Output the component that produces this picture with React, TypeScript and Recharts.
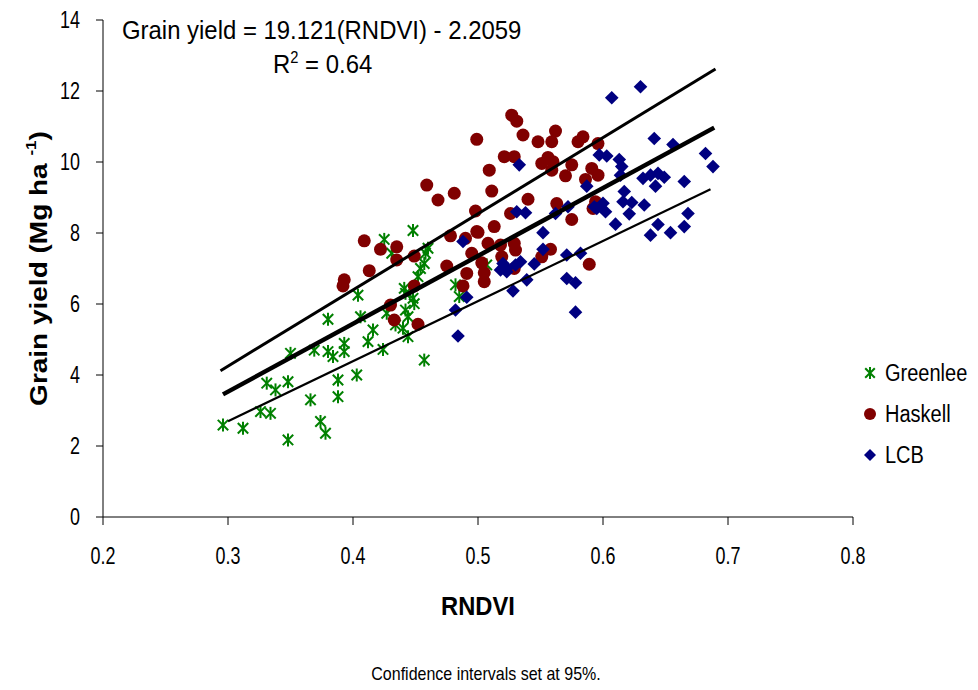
import React from 'react';
import { ScatterChart, Scatter, XAxis, YAxis } from 'recharts';

// RNDVI / grain yield pairs, one pair of arrays per site
const greenleeRndvi = [
  0.296, 0.312, 0.326, 0.334, 0.331, 0.338, 0.348, 0.348, 0.35, 0.366, 0.369, 0.374,
  0.378, 0.38, 0.38, 0.384, 0.388, 0.388, 0.393, 0.393, 0.403, 0.404, 0.406, 0.412,
  0.416, 0.424, 0.425, 0.427, 0.434, 0.44, 0.444, 0.441, 0.442, 0.444, 0.442, 0.448,
  0.448, 0.449, 0.452, 0.454, 0.457, 0.458, 0.46, 0.457, 0.431, 0.482, 0.485, 0.507,
];
const greenleeYield = [
  2.59, 2.5, 2.97, 2.92, 3.77, 3.58, 3.81, 2.17, 4.61, 3.3, 4.7, 2.69,
  2.36, 5.57, 4.66, 4.52, 3.86, 3.39, 4.89, 4.66, 4.0, 6.25, 5.64, 4.94,
  5.27, 4.72, 7.82, 5.74, 5.41, 5.32, 5.08, 6.44, 6.3, 5.64, 5.83, 8.07,
  6.16, 6.01, 6.77, 7.0, 7.14, 7.43, 7.57, 4.42, 7.43, 6.54, 6.21, 7.1,
];

const haskellRndvi = [
  0.459, 0.468, 0.481, 0.498, 0.409, 0.422, 0.435, 0.435, 0.449, 0.413, 0.393, 0.392,
  0.449, 0.43, 0.433, 0.452, 0.478, 0.49, 0.495, 0.475, 0.491, 0.488, 0.499, 0.527,
  0.531, 0.499, 0.536, 0.548, 0.559, 0.562, 0.58, 0.584, 0.596, 0.521, 0.529, 0.551,
  0.556, 0.56, 0.559, 0.575, 0.57, 0.591, 0.596, 0.586, 0.509, 0.511, 0.54, 0.526,
  0.563, 0.575, 0.592, 0.594, 0.5, 0.513, 0.508, 0.518, 0.529, 0.53, 0.503, 0.519,
  0.505, 0.505, 0.529, 0.551, 0.558, 0.589,
];
const haskellYield = [
  9.35, 8.93, 9.12, 8.62, 7.78, 7.54, 7.61, 7.24, 7.35, 6.94, 6.68, 6.51,
  6.51, 5.97, 5.55, 5.43, 7.92, 7.85, 7.43, 7.07, 6.86, 6.51, 8.04, 11.32,
  11.15, 10.64, 10.76, 10.57, 10.57, 10.87, 10.57, 10.71, 10.52, 10.15, 10.15, 9.96,
  10.13, 10.01, 9.77, 9.92, 9.61, 9.82, 9.63, 9.51, 9.77, 9.18, 8.95, 8.55,
  8.83, 8.38, 8.69, 8.88, 8.02, 8.18, 7.71, 7.66, 7.71, 7.52, 7.16, 7.33,
  6.88, 6.63, 7.0, 7.33, 7.54, 7.12,
];

const lcbRndvi = [
  0.63, 0.607, 0.641, 0.656, 0.682, 0.688, 0.597, 0.603, 0.613, 0.615, 0.614, 0.632,
  0.638, 0.644, 0.649, 0.642, 0.665, 0.587, 0.617, 0.616, 0.623, 0.6, 0.593, 0.602,
  0.621, 0.633, 0.61, 0.668, 0.644, 0.665, 0.638, 0.654, 0.531, 0.538, 0.562, 0.572,
  0.552, 0.552, 0.571, 0.582, 0.534, 0.545, 0.523, 0.539, 0.571, 0.578, 0.528, 0.578,
  0.533, 0.488, 0.491, 0.482, 0.484, 0.518, 0.523, 0.52, 0.53, 0.595,
];
const lcbYield = [
  12.12, 11.81, 10.66, 10.49, 10.24, 9.87, 10.2, 10.17, 10.07, 9.87, 9.63, 9.54,
  9.63, 9.68, 9.57, 9.32, 9.45, 9.32, 9.17, 8.88, 8.86, 8.84, 8.74, 8.6,
  8.54, 8.79, 8.25, 8.55, 8.24, 8.18, 7.94, 8.01, 8.6, 8.57, 8.55, 8.74,
  8.01, 7.54, 7.38, 7.43, 7.19, 7.13, 7.0, 6.68, 6.72, 6.6, 6.37, 5.77,
  9.92, 7.76, 6.19, 5.83, 5.1, 6.96, 6.91, 7.14, 7.1, 8.69,
];

// fitted line: Grain yield = 19.121(RNDVI) - 2.2059, and the 95% bands
const fitSlope = 19.121;
const fitIntercept = -2.2059;
const fitRange = [0.296, 0.689];
const upperBandRndvi = [0.294, 0.69];
const upperBandYield = [4.12, 12.62];
const lowerBandRndvi = [0.3, 0.686];
const lowerBandYield = [2.7, 9.23];

const xTicks = [0.2, 0.3, 0.4, 0.5, 0.6, 0.7, 0.8];
const yTicks = [0, 2, 4, 6, 8, 10, 12, 14];

const pairs = (xs: number[], ys: number[]) => xs.map((x, i) => ({ x, y: ys[i] }));

const greenlee = pairs(greenleeRndvi, greenleeYield);
const haskell = pairs(haskellRndvi, haskellYield);
const lcb = pairs(lcbRndvi, lcbYield);
const fitLine = fitRange.map((x) => ({ x, y: fitSlope * x + fitIntercept }));
const upperBand = pairs(upperBandRndvi, upperBandYield);
const lowerBand = pairs(lowerBandRndvi, lowerBandYield);

const FONT = '"Liberation Sans", Arial, sans-serif';
const GREEN = '#008000';
const MAROON = '#800000';
const NAVY = '#000080';

// the source figure's lettering is narrow and tall, so text is squeezed sideways
const Txt = ({ x, y, size, sx = 1, anchor = 'start', bold = false, children }: any) => (
  <text transform={`translate(${x},${y}) scale(${sx},1)`} textAnchor={anchor}
    fontSize={size} fontWeight={bold ? 'bold' : 'normal'} fontFamily={FONT} fill="#000">
    {children}
  </text>
);

const XTick = ({ x, y, payload }: any) => (
  <Txt x={x} y={y + 37} size={23} sx={0.78} anchor="middle">{payload.value.toFixed(1)}</Txt>
);
const YTick = ({ x, y, payload }: any) => (
  <Txt x={x} y={y + 7.5} size={23} sx={0.78} anchor="end">{payload.value}</Txt>
);

const Star = ({ cx, cy, s = 6.5 }: any) => (
  <g stroke={GREEN} strokeWidth={2}>
    <line x1={cx} y1={cy - s} x2={cx} y2={cy + s} />
    <line x1={cx - s * 0.8} y1={cy - s * 0.8} x2={cx + s * 0.8} y2={cy + s * 0.8} />
    <line x1={cx - s * 0.8} y1={cy + s * 0.8} x2={cx + s * 0.8} y2={cy - s * 0.8} />
  </g>
);
const Dot = ({ cx, cy, r = 6.5 }: any) => <circle cx={cx} cy={cy} r={r} fill={MAROON} />;
const Diamond = ({ cx, cy, s = 6.8 }: any) => (
  <path d={`M${cx},${cy - s}L${cx + s},${cy}L${cx},${cy + s}L${cx - s},${cy}Z`} fill={NAVY} />
);
const NoMark = () => <g />;

const legendItems = [
  { name: 'Greenlee', y: 372, mark: (cx: number, cy: number) => <Star cx={cx} cy={cy} s={6} /> },
  { name: 'Haskell', y: 413, mark: (cx: number, cy: number) => <Dot cx={cx} cy={cy} r={6} /> },
  { name: 'LCB', y: 454, mark: (cx: number, cy: number) => <Diamond cx={cx} cy={cy} s={6} /> },
];

const YTitle = ({ viewBox }: any) => {
  const cx = 47;
  const cy = viewBox.y + viewBox.height / 2;
  return (
    <text transform={`translate(${cx},${cy}) rotate(-90) scale(1,0.85)`} textAnchor="middle"
      fontSize={28} fontWeight="bold" fontFamily={FONT} fill="#000">
      Grain yield (Mg ha <tspan fontSize={17} dy="-0.75em">-1</tspan><tspan dy="0.45em">)</tspan>
    </text>
  );
};

export default function App() {
  return (
    <div style={{ position: 'relative', width: 978, height: 690, background: '#fff' }}>
      <style>{'body{margin:0}'}</style>
      <ScatterChart width={978} height={690} margin={{ top: 20, right: 125, bottom: 0, left: 0 }}>
        <XAxis type="number" dataKey="x" domain={[0.2, 0.8]} ticks={xTicks} interval={0}
          height={173} stroke="#000" tickSize={8} tick={<XTick />} />
        <YAxis type="number" dataKey="y" domain={[0, 14]} ticks={yTicks} interval={0} width={103}
          stroke="#000" tickSize={7} tickMargin={16} tick={<YTick />} label={<YTitle />} />
        <Scatter name="Greenlee" data={greenlee} shape={<Star />} isAnimationActive={false} />
        <Scatter name="Haskell" data={haskell} shape={<Dot />} isAnimationActive={false} />
        <Scatter name="LCB" data={lcb} shape={<Diamond />} isAnimationActive={false} />
        <Scatter name="upper" data={upperBand} line={{ stroke: '#000', strokeWidth: 3 }}
          shape={<NoMark />} legendType="none" isAnimationActive={false} />
        <Scatter name="fit" data={fitLine} line={{ stroke: '#000', strokeWidth: 4.5 }}
          shape={<NoMark />} legendType="none" isAnimationActive={false} />
        <Scatter name="lower" data={lowerBand} line={{ stroke: '#000', strokeWidth: 2.2 }}
          shape={<NoMark />} legendType="none" isAnimationActive={false} />
      </ScatterChart>
      <svg width={978} height={690} style={{ position: 'absolute', left: 0, top: 0, pointerEvents: 'none' }}>
        <Txt x={122} y={39} size={26} sx={0.92}>Grain yield = 19.121(RNDVI) - 2.2059</Txt>
        <Txt x={273} y={72.5} size={26} sx={0.92}>
          R<tspan fontSize={16} dy={-10}>2</tspan><tspan dy={10}> = 0.64</tspan>
        </Txt>
        <Txt x={478} y={615} size={25} sx={0.95} anchor="middle" bold>RNDVI</Txt>
        <Txt x={486} y={680} size={18} sx={0.89} anchor="middle">Confidence intervals set at 95%.</Txt>
        {legendItems.map(({ name, y, mark }) => (
          <g key={name}>
            {mark(870, y + 1)}
            <Txt x={885} y={y + 8.5} size={23} sx={0.87}>{name}</Txt>
          </g>
        ))}
      </svg>
    </div>
  );
}
